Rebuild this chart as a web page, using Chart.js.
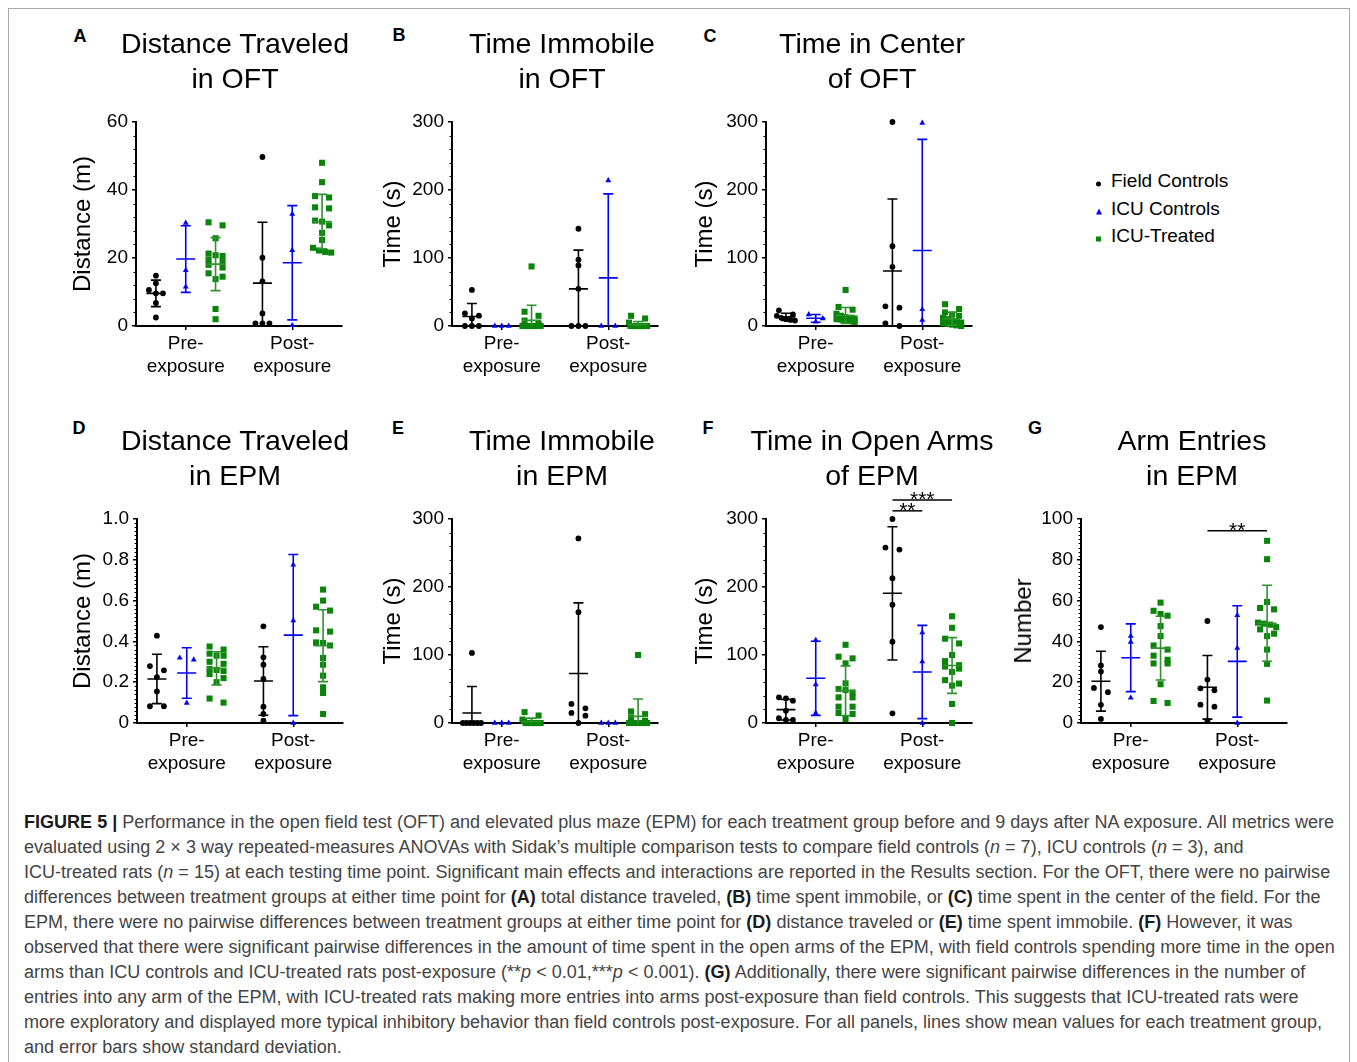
<!DOCTYPE html>
<html><head><meta charset="utf-8">
<script src="https://cdn.jsdelivr.net/npm/chart.js@4.4.0/dist/chart.umd.min.js"></script>
<style>
html,body{margin:0;padding:0;background:#fff;}
body{width:1357px;height:1062px;overflow:hidden;position:relative;font-family:"Liberation Sans",Arial,sans-serif;color:#000;}
.frame{position:absolute;left:8px;top:8px;width:1342px;height:1100px;border:1px solid #a8a8a8;box-sizing:border-box;}
.letter{position:absolute;font-weight:bold;font-size:18px;line-height:20px;transform:translate(-50%,-50%);}
.title{position:absolute;font-size:28.5px;line-height:35px;text-align:center;width:320px;transform:translateX(-50%);white-space:nowrap;}
.ytitle{position:absolute;font-size:24px;line-height:26px;white-space:nowrap;transform:translate(-50%,-50%) rotate(-90deg);}
.leg{position:absolute;font-size:19px;line-height:22px;white-space:nowrap;transform:translateY(-50%);}
.cap{position:absolute;left:24px;height:25px;line-height:25px;font-size:18px;font-family:"Liberation Sans",Arial,sans-serif;color:#444;white-space:nowrap;}
.cap span.t{display:inline-block;transform-origin:0 50%;}
.cap b{color:#1a1a1a;}
</style>
</head>
<body>
<div class="frame"></div>
<script>
// ---------------- DATA ----------------
const groups = ['Field Controls', 'ICU Controls', 'ICU-Treated'];
const timeLabels = [['Pre-', 'exposure'], ['Post-', 'exposure']];

// Each array: [pre-exposure values, post-exposure values]
// A: Distance Traveled in OFT (m)
const A_field   = [[14.8, 12.6, 10.6, 9.6, 9.6, 6.8, 2.5], [49.7, 20.1, 13.1, 3.7, 0.8, 0.8, 0.8]];
const A_icu     = [[30.3, 16.4, 11.5], [32.9, 22.3, 0.2]];
const A_treated = [[30.5, 29.6, 25.8, 21.3, 20.8, 20.6, 19.5, 18.8, 18.0, 17.2, 15.5, 14.5, 13.8, 5.0, 2.0],
                   [48.0, 42.3, 38.2, 37.8, 34.9, 34.6, 31.0, 30.7, 29.6, 27.4, 25.3, 23.0, 22.2, 21.8, 21.6]];
const A_mean = [[9.6, 19.7, 18.2], [12.6, 18.6, 30.7]];
const A_sd   = [[3.9, 9.8, 7.8], [17.9, 16.8, 8.0]];

// B: Time Immobile in OFT (s)
const B_field   = [[53, 18.7, 15.2, 11, 0, 0, 0], [143, 97.4, 89, 54.6, 0, 0, 0]];
const B_icu     = [[0, 0, 0], [214, 0, 0]];
const B_treated = [[87.6, 21, 15, 8, 3, 0, 0, 0, 0, 0, 0, 0, 0, 0, 0],
                   [15, 11, 5, 0, 0, 0, 0, 0, 0, 0, 0, 0, 0, 0, 0]];
const B_mean = [[14, 0, 8.2], [54.6, 70.8, 2.1]];
const B_sd   = [[19, 0, 22.4], [57, 123.5, 4.6]];

// C: Time in Center of OFT (s)
const C_field   = [[23, 17, 15, 12, 10, 9, 8], [300, 117.4, 87, 29, 27, 4, 0]];
const C_icu     = [[17, 11, 6], [298.6, 24.5, 8.8]];
const C_treated = [[53, 28, 24, 18, 15, 13, 12, 11, 10, 10, 9, 8, 8, 7, 6],
                   [32, 25, 20, 17, 15, 12, 10, 8, 7, 5, 4, 3, 2, 1, 0]];
const C_mean = [[13.4, 11.3, 15.5], [80.8, 111, 10.7]];
const C_sd   = [[5.3, 5.7, 11.7], [106, 163.5, 9.5]];

// D: Distance Traveled in EPM (m)
const D_field   = [[0.428, 0.279, 0.258, 0.225, 0.155, 0.082, 0.082], [0.474, 0.322, 0.286, 0.216, 0.080, 0.044, 0.011]];
const D_icu     = [[0.319, 0.310, 0.098], [0.775, 0.502, 0.0]];
const D_treated = [[0.375, 0.36, 0.34, 0.33, 0.33, 0.30, 0.29, 0.265, 0.26, 0.255, 0.24, 0.22, 0.20, 0.12, 0.10],
                   [0.654, 0.60, 0.57, 0.551, 0.454, 0.448, 0.395, 0.392, 0.38, 0.319, 0.286, 0.232, 0.175, 0.147, 0.044]];
const D_mean = [[0.216, 0.245, 0.268], [0.206, 0.431, 0.379]];
const D_sd   = [[0.121, 0.124, 0.081], [0.168, 0.395, 0.176]];

// E: Time Immobile in EPM (s)
const E_field   = [[103, 0, 0, 0, 0, 0, 0], [271.5, 163, 28, 21.6, 14.8, 10.8, 0]];
const E_icu     = [[0, 0, 0], [0, 0, 0]];
const E_treated = [[16, 11, 5, 3, 0, 0, 0, 0, 0, 0, 0, 0, 0, 0, 0],
                   [100, 17, 13, 8, 3, 0, 0, 0, 0, 0, 0, 0, 0, 0, 0]];
const E_mean = [[14.8, 0, 2.3], [72.8, 0, 9.8]];
const E_sd   = [[38.9, 0, 4.9], [103.8, 0, 25.6]];

// F: Time in Open Arms of EPM (s)
const F_field   = [[37.7, 36.3, 32.8, 18.1, 7, 4.4, 4.4], [300, 258, 255, 213, 174, 119.6, 14.2]];
const F_icu     = [[122, 56.4, 14.7], [133, 90.2, 0]];
const F_treated = [[115, 97.5, 95, 87.7, 58.3, 50, 48.5, 45, 37.7, 37.7, 24, 24, 14.7, 13.2, 5.9],
                   [157, 140, 124, 117, 100, 91, 85, 83, 80, 75, 63, 58, 55, 28, 0]];
const F_mean = [[19.6, 65.7, 47.5], [190.7, 75, 84.5]];
const F_sd   = [[15.2, 54.5, 36.5], [98, 68.6, 41]];

// G: Arm Entries in EPM (number)
const G_field   = [[47, 28.2, 25.2, 17.2, 15.1, 8.9, 2], [50, 21.3, 17, 16, 9, 8, 1.1]];
const G_icu     = [[42.6, 39.7, 12.3], [52.8, 36.7, 0]];
const G_treated = [[59, 55, 53.4, 52.6, 47.5, 42.6, 38, 36, 33, 31, 29.2, 29.2, 19, 10.8, 9.8],
                   [89.3, 80.3, 59.3, 56.4, 55.7, 49.2, 48.7, 48.2, 47, 45.9, 43.8, 42.6, 36, 29, 11]];
const G_mean = [[20.5, 32, 36.7], [17.5, 30.2, 48.9]];
const G_sd   = [[14.7, 16.6, 15.6], [15.6, 27.3, 18.6]];

// Significance annotations: [from group, to group] at post-exposure, bracket level (axis units), label
const F_sig = [{from: 0, to: 2, level: 328, label: '***'}, {from: 0, to: 1, level: 312, label: '**'}];
const G_sig = [{from: 0, to: 2, level: 94.3, label: '**'}];

// ---------------- LAYOUT / STYLE ----------------
const FONT = '"Liberation Sans", Arial, sans-serif';
const PAD_L = 80, PAD_T = 40, PAD_R = 30, PAD_B = 60;
const PLOT_W = 206, PLOT_H = 204;
const X_MIN = 0.533, X_MAX = 2.467, OFFSET = 0.28;
const STEP_PX = 7, ROW_PX = 5;
const MARK_COLORS = ['#000000', '#0000ff', '#0a840a'];
const LINE_COLORS = ['#000000', '#0000ff', '#2f922f'];
const STYLES = ['circle', 'triangle', 'rect'];
const RADII = [2.9, 3.4, 4.3];
const fmtInt = v => String(Math.round(v));
const fmtDec = v => (Math.abs(v) < 1e-9 ? '0' : v.toFixed(1));

const panels = [
  {field: A_field, icu: A_icu, treated: A_treated, mean: A_mean, sd: A_sd, ymax: 60,  major: 20,  minor: 4,    fmt: fmtInt, axisX: 136, top: 122, sig: []},
  {field: B_field, icu: B_icu, treated: B_treated, mean: B_mean, sd: B_sd, ymax: 300, major: 100, minor: 20,   fmt: fmtInt, axisX: 452, top: 122, sig: []},
  {field: C_field, icu: C_icu, treated: C_treated, mean: C_mean, sd: C_sd, ymax: 300, major: 100, minor: 20,   fmt: fmtInt, axisX: 766, top: 122, sig: []},
  {field: D_field, icu: D_icu, treated: D_treated, mean: D_mean, sd: D_sd, ymax: 1.0, major: 0.2, minor: 0.02, fmt: fmtDec, axisX: 137, top: 519, sig: []},
  {field: E_field, icu: E_icu, treated: E_treated, mean: E_mean, sd: E_sd, ymax: 300, major: 100, minor: 20,   fmt: fmtInt, axisX: 452, top: 519, sig: []},
  {field: F_field, icu: F_icu, treated: F_treated, mean: F_mean, sd: F_sd, ymax: 300, major: 100, minor: 20,   fmt: fmtInt, axisX: 766, top: 519, sig: F_sig},
  {field: G_field, icu: G_icu, treated: G_treated, mean: G_mean, sd: G_sd, ymax: 100, major: 20,  minor: 2,    fmt: fmtInt, axisX: 1081, top: 519, sig: G_sig}
];

const groupX = (ti, gi) => (ti + 1) + (gi - 1) * OFFSET;

// GraphPad-like horizontal scatter of points that share a level
function swarm(vals, center, yRange) {
  const pxPerY = PLOT_H / yRange;
  const stepX = STEP_PX * (X_MAX - X_MIN) / PLOT_W;
  const order = vals.map((v, i) => i).sort((a, b) => vals[b] - vals[a]);
  const rows = [];
  for (const i of order) {
    const last = rows[rows.length - 1];
    if (last && (vals[last[0]] - vals[i]) * pxPerY < ROW_PX) last.push(i);
    else rows.push([i]);
  }
  const out = [];
  for (const row of rows) {
    const n = row.length;
    const span = n === 1 ? 0 : (n <= 3 ? 2 : 2.6);
    row.forEach((i, k) => {
      const off = n === 1 ? 0 : -span / 2 + span * k / (n - 1);
      out.push({x: center + off * stepX, y: vals[i]});
    });
  }
  return out;
}

const errPlugin = {
  id: 'errbars',
  afterDatasetsDraw(chart, args, o) {
    const {ctx} = chart;
    const x = chart.scales.x, y = chart.scales.y;
    ctx.save();
    // minor ticks on y axis
    ctx.strokeStyle = '#000'; ctx.lineWidth = 1;
    const nMinor = Math.round((y.max - y.min) / o.minor);
    const perMajor = Math.round(o.major / o.minor);
    for (let k = 0; k <= nMinor; k++) {
      if (k % perMajor === 0) continue;
      const py = Math.round(y.getPixelForValue(y.min + k * o.minor)) + 0.5;
      ctx.beginPath(); ctx.moveTo(x.left - 2.5, py); ctx.lineTo(x.left, py); ctx.stroke();
    }
    // mean lines + SD error bars
    o.bars.forEach(b => {
      if (b.sd === 0 && b.mean <= y.min) return;
      const cx = x.getPixelForValue(b.x);
      const ym = y.getPixelForValue(b.mean);
      const yt = y.getPixelForValue(b.mean + b.sd);
      const lowClipped = (b.mean - b.sd) <= y.min;
      const yb = y.getPixelForValue(Math.max(b.mean - b.sd, y.min));
      ctx.strokeStyle = b.color; ctx.lineWidth = 1.6;
      ctx.beginPath();
      ctx.moveTo(cx, yt); ctx.lineTo(cx, yb);
      ctx.moveTo(cx - 9.5, ym); ctx.lineTo(cx + 9.5, ym);
      ctx.moveTo(cx - 5, yt); ctx.lineTo(cx + 5, yt);
      if (!lowClipped) { ctx.moveTo(cx - 5, yb); ctx.lineTo(cx + 5, yb); }
      ctx.stroke();
    });
    // significance brackets
    ctx.strokeStyle = '#000'; ctx.fillStyle = '#000'; ctx.lineWidth = 1.5;
    ctx.font = '21px ' + FONT; ctx.textAlign = 'center'; ctx.textBaseline = 'alphabetic';
    o.sig.forEach(s => {
      const x1 = x.getPixelForValue(groupX(1, s.from));
      const x2 = x.getPixelForValue(groupX(1, s.to));
      const py = y.getPixelForValue(s.level);
      ctx.beginPath(); ctx.moveTo(x1, py); ctx.lineTo(x2, py); ctx.stroke();
      ctx.fillText(s.label, (x1 + x2) / 2, py + 6);
    });
    ctx.restore();
  }
};

function makeChart(p) {
  const cv = document.createElement('canvas');
  const W = PAD_L + PLOT_W + PAD_R, H = PAD_T + PLOT_H + PAD_B;
  cv.width = W; cv.height = H;
  cv.style.cssText = `position:absolute;left:${p.axisX - PAD_L}px;top:${p.top - PAD_T}px;width:${W}px;height:${H}px;`;
  document.body.appendChild(cv);
  const series = [p.field, p.icu, p.treated];
  const datasets = [], bars = [];
  series.forEach((s, gi) => {
    const pts = [];
    s.forEach((vals, ti) => {
      const cx = groupX(ti, gi);
      pts.push(...swarm(vals, cx, p.ymax));
      bars.push({x: cx, mean: p.mean[ti][gi], sd: p.sd[ti][gi], color: LINE_COLORS[gi]});
    });
    datasets.push({
      label: groups[gi], data: pts, pointStyle: STYLES[gi], pointRadius: RADII[gi],
      pointBackgroundColor: MARK_COLORS[gi], pointBorderColor: MARK_COLORS[gi], pointBorderWidth: 0,
      showLine: false, clip: false
    });
  });
  new Chart(cv, {
    type: 'scatter',
    data: {datasets},
    plugins: [errPlugin],
    options: {
      responsive: false, animation: false, devicePixelRatio: 1,
      layout: {padding: {left: 0, top: PAD_T, right: PAD_R, bottom: 0}},
      plugins: {legend: {display: false}, tooltip: {enabled: false},
        errbars: {bars, minor: p.minor, major: p.major, sig: p.sig}},
      scales: {
        x: {
          type: 'linear', min: X_MIN, max: X_MAX,
          afterBuildTicks: s => { s.ticks = [{value: 1}, {value: 2}]; },
          afterFit: s => { s.height = PAD_B; },
          ticks: {callback: v => timeLabels[Math.round(v) - 1], font: {family: FONT, size: 19, lineHeight: 1.22},
                  color: '#000', padding: 2, maxRotation: 0, autoSkip: false},
          grid: {drawOnChartArea: false, tickLength: 4, color: '#000', lineWidth: 1.5},
          border: {color: '#000', width: 2}
        },
        y: {
          type: 'linear', min: 0, max: p.ymax,
          afterFit: s => { s.width = PAD_L; },
          ticks: {stepSize: p.major, callback: p.fmt, font: {family: FONT, size: 19}, color: '#000', padding: 4},
          grid: {drawOnChartArea: false, tickLength: 4, color: '#000', lineWidth: 1.5},
          border: {color: '#000', width: 2}
        }
      }
    }
  });
}
panels.forEach(makeChart);

// ---------------- TEXT ----------------
function addDiv(cls, html, css) {
  const d = document.createElement('div');
  d.className = cls; d.innerHTML = html; d.style.cssText = css;
  document.body.appendChild(d); return d;
}
const letters = [['A', 80, 36], ['B', 399, 35], ['C', 710, 36], ['D', 79, 428], ['E', 398, 428], ['F', 708, 428], ['G', 1035, 428]];
letters.forEach(l => addDiv('letter', l[0], `left:${l[1]}px;top:${l[2]}px;`));

const titles = [
  ['Distance Traveled', 'in OFT', 235, 26], ['Time Immobile', 'in OFT', 562, 26], ['Time in Center', 'of OFT', 872, 26],
  ['Distance Traveled', 'in EPM', 235, 423], ['Time Immobile', 'in EPM', 562, 423], ['Time in Open Arms', 'of EPM', 872, 423],
  ['Arm Entries', 'in EPM', 1192, 423]
];
titles.forEach(t => addDiv('title', t[0] + '<br>' + t[1], `left:${t[2]}px;top:${t[3]}px;`));

const ytitles = [['Distance (m)', 82, 224], ['Time (s)', 392, 224], ['Time (s)', 704, 224],
  ['Distance (m)', 82, 621], ['Time (s)', 392, 621], ['Time (s)', 704, 621], ['Number', 1023, 621]];
ytitles.forEach(t => addDiv('ytitle', t[0], `left:${t[1]}px;top:${t[2]}px;`));

// legend
const legendMarks = [
  '<span style="display:inline-block;width:5px;height:5px;border-radius:50%;background:#000;"></span>',
  '<span style="display:inline-block;width:0;height:0;border-left:3px solid transparent;border-right:3px solid transparent;border-bottom:6px solid #0000ff;"></span>',
  '<span style="display:inline-block;width:5px;height:5px;background:#0a840a;"></span>'
];
groups.forEach((g, i) => {
  const y = [181, 209, 236][i];
  addDiv('leg', legendMarks[i], `left:1095.5px;top:${y + 1}px;line-height:6px;`);
  addDiv('leg', g, `left:1111px;top:${y}px;`);
});

// caption
const capLines = [
  '<b>FIGURE 5 |</b> Performance in the open field test (OFT) and elevated plus maze (EPM) for each treatment group before and 9 days after NA exposure. All metrics were',
  'evaluated using 2 × 3 way repeated-measures ANOVAs with Sidak’s multiple comparison tests to compare field controls (<i>n</i> = 7), ICU controls (<i>n</i> = 3), and',
  'ICU-treated rats (<i>n</i> = 15) at each testing time point. Significant main effects and interactions are reported in the Results section. For the OFT, there were no pairwise',
  'differences between treatment groups at either time point for <b>(A)</b> total distance traveled, <b>(B)</b> time spent immobile, or <b>(C)</b> time spent in the center of the field. For the',
  'EPM, there were no pairwise differences between treatment groups at either time point for <b>(D)</b> distance traveled or <b>(E)</b> time spent immobile. <b>(F)</b> However, it was',
  'observed that there were significant pairwise differences in the amount of time spent in the open arms of the EPM, with field controls spending more time in the open',
  'arms than ICU controls and ICU-treated rats post-exposure (**<i>p</i> &lt; 0.01,***<i>p</i> &lt; 0.001). <b>(G)</b> Additionally, there were significant pairwise differences in the number of',
  'entries into any arm of the EPM, with ICU-treated rats making more entries into arms post-exposure than field controls. This suggests that ICU-treated rats were',
  'more exploratory and displayed more typical inhibitory behavior than field controls post-exposure. For all panels, lines show mean values for each treatment group,',
  'and error bars show standard deviation.'
];
const capSpans = capLines.map((c, i) =>
  addDiv('cap', '<span class="t">' + c + '</span>', `top:${822 + i * 25 - 12.5}px;`).firstChild);
function fitCaption() {
  // one common horizontal scale so that the first line spans the same width as in the figure
  capSpans.forEach(s => { s.style.transform = 'none'; });
  const w1 = capSpans[0].getBoundingClientRect().width;
  if (w1 > 0) {
    const k = (1334 - 24) / w1;
    capSpans.forEach(s => { s.style.transform = `scaleX(${k})`; });
  }
}
fitCaption();
if (document.fonts && document.fonts.ready) document.fonts.ready.then(fitCaption);
</script>
</body></html>
